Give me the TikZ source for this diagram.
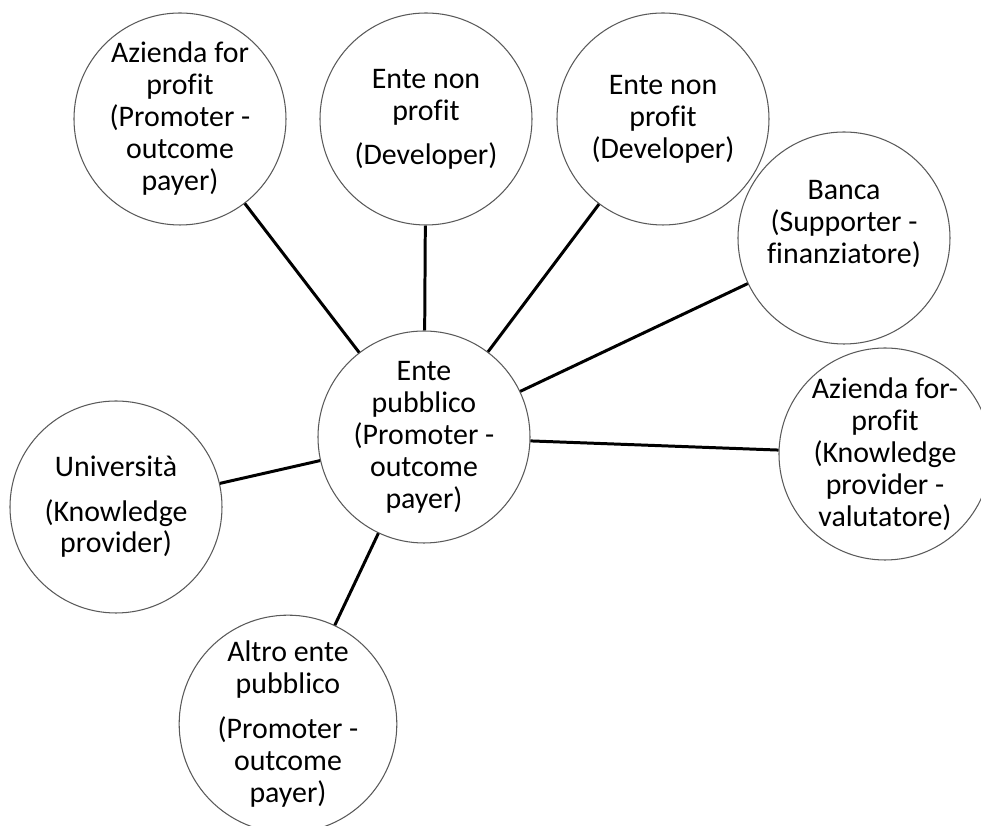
\documentclass[tikz,border=0pt]{standalone}
\usepackage{fontspec}
\setmainfont{Carlito}[Ligatures=NoCommon]
\usepackage{tikz}
\usetikzlibrary{positioning}

\begin{document}
\begin{tikzpicture}
            \tikzstyle{party} = [draw=black!65,line width=0.6pt,circle,minimum size=4.24cm,inner sep=0pt,align=center,font=\fontsize{17}{18.2}\selectfont]
            \tikzstyle{link} = [line width=1.7pt]

            \useasboundingbox (-8.48,-7.78) rectangle (11.14,8.74);

            \node[party] (P) at (0,0) {Ente\\pubblico\\(Promoter -\\outcome\\payer)};
            \node[party] (A) at (-4.88,6.36) {Azienda for\\profit\\(Promoter -\\outcome\\payer)};
            \node[party] (N1) at (0.04,6.36) {Ente non\\profit\\[7pt](Developer)};
            \node[party] (N2) at (4.78,6.36) {Ente non\\profit\\(Developer)};
            \node[party] (Bk) at (8.40,3.98) {Banca\\(Supporter -\\finanziatore)\\\mbox{}};
            \node[party] (K) at (9.22,-0.34) {Azienda for-\\profit\\(Knowledge\\provider -\\valutatore)};
            \node[party] (U) at (-6.16,-1.40) {Università\\[7pt](Knowledge\\provider)};
            \node[party] (Q) at (-2.72,-5.74) {Altro ente\\pubblico\\[7pt](Promoter -\\outcome\\payer)};

            \draw[link] (A) -- (P);
            \draw[link] (N1) -- (P);
            \draw[link] (N2) -- (P);
            \draw[link] (Bk) -- (P);
            \draw[link] (K) -- (P);
            \draw[link] (U) -- (P);
            \draw[link] (Q) -- (P);
        \end{tikzpicture}
\end{document}
